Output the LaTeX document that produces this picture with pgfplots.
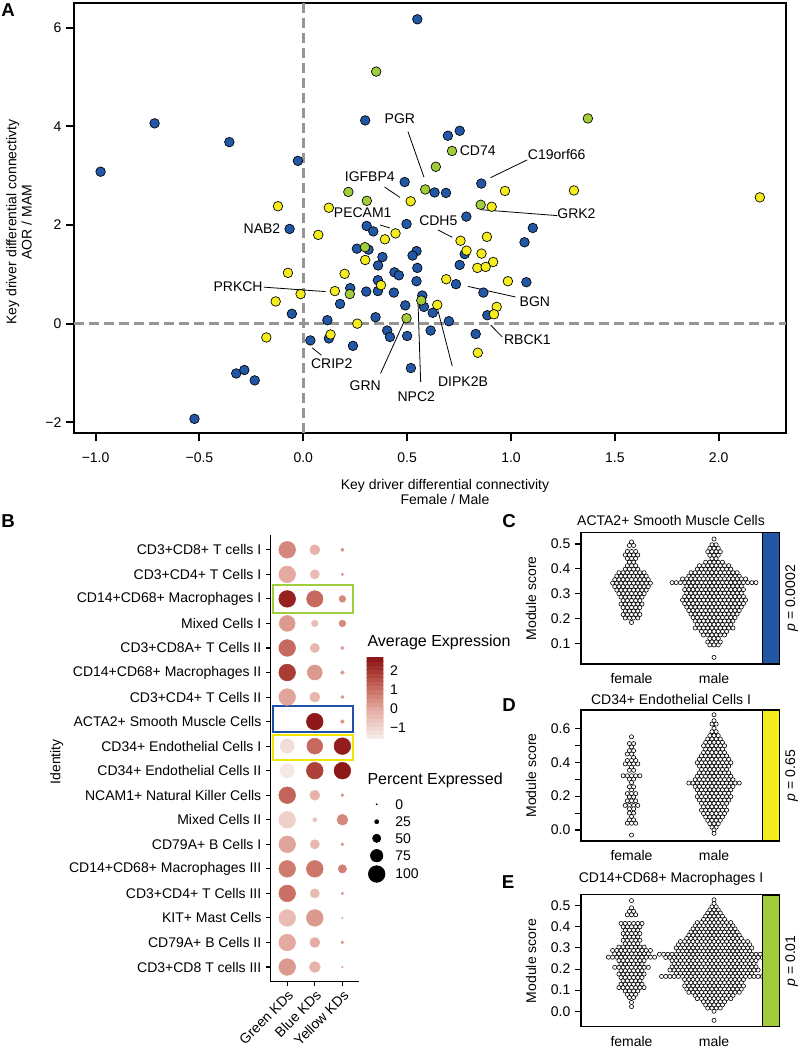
\documentclass[border=0pt]{standalone}
\usepackage{fontspec}
\setmainfont{Liberation Sans}
\usepackage{pgfplots}
\pgfplotsset{compat=1.18}
\usepackage{pgfplotstable}

\definecolor{kdblue}{RGB}{33,87,165}
\definecolor{kdyellow}{RGB}{245,236,30}
\definecolor{kdgreen}{RGB}{163,204,58}
\definecolor{dashgray}{RGB}{150,150,150}
\definecolor{boxgreen}{RGB}{160,205,60}
\definecolor{boxblue}{RGB}{30,80,165}
\definecolor{boxyellow}{RGB}{240,230,0}

\newcommand{\fs}{\fontsize{10.5}{11.5}\selectfont}
\newcommand{\lt}{\fontsize{12}{14}\selectfont}
\newcommand{\pl}{\fontsize{14}{16}\selectfont\bfseries}

\pgfplotsset{
  colormap={reds}{rgb255(0cm)=(247,237,235); rgb255(1.58cm)=(228,170,160); rgb255(2.58cm)=(202,112,100); rgb255(3.58cm)=(165,55,48); rgb255(4.29cm)=(138,18,20)},
  kdpt/.style={only marks, mark=*, mark size=3.6pt, mark options={fill=#1, draw=black, line width=0.5pt}},
  swarm/.style={only marks, mark=*, mark size=1.55pt, mark options={fill=white, draw=black, line width=0.45pt}},
  swarmaxis/.style={scale only axis, width=136.3pt, xmin=0.388, xmax=2.59,
    xtick={1,2}, xticklabels={female,male}, xtick style={draw=none},
    tick align=outside, ytick pos=left, xtick pos=bottom, major tick length=4.5pt,
    ytick style={black, line width=0.8pt},
    tick label style={font=\fs}, xticklabel style={yshift=0.8pt},
    axis line style={line width=0.8pt}, clip marker paths=true},
}

% dot plot: x = KD group, y = row (18 = top), pct = percent expressed, avg = average expression
\pgfplotstableread{
x y pct avg
1 18 100 0.6
2 18 60 -0.2
3 18 20 0.5
1 17 100 0.0
2 17 55 -0.4
3 17 15 0.3
1 16 100 2.4
2 16 98 1.1
3 16 40 0.6
1 15 95 0.3
2 15 40 -0.5
3 15 40 0.6
1 14 100 1.1
2 14 55 -0.3
3 14 20 0.3
1 13 100 1.9
2 13 90 0.3
3 13 22 0.3
1 12 100 0.1
2 12 60 -0.3
3 12 20 0.3
2 11 100 2.6
3 11 22 0.4
1 10 85 -1.2
2 10 95 1.1
3 10 100 2.5
1 9 85 -1.45
2 9 100 1.8
3 9 100 2.6
1 8 100 1.2
2 8 60 -0.2
3 8 18 0.3
1 7 100 -0.9
2 7 24 -0.6
3 7 65 0.6
1 6 100 0.1
2 6 55 -0.3
3 6 18 0.2
1 5 100 0.8
2 5 100 0.9
3 5 50 0.7
1 4 100 1.0
2 4 55 -0.4
3 4 15 0.3
1 3 100 -0.4
2 3 100 0.3
3 3 8 0.2
1 2 100 0.0
2 2 60 -0.1
3 2 18 0.2
1 1 100 0.3
2 1 65 -0.2
3 1 10 0.1
}\dotdata

\pgfplotstableread{
x y pct
376.7 -804.3 0
376.7 -821.7 25
376.7 -838.3 50
376.7 -855.7 75
376.7 -874 100
}\pctlegend

\begin{document}
\begin{tikzpicture}
\useasboundingbox (0,0) rectangle (600pt,-787.5pt);

% ---------------- A ----------------
\begin{axis}[
  at={(55.5pt,-324.75pt)}, anchor=south west,
  scale only axis, width=534pt, height=322.5pt,
  xmin=-1.104, xmax=2.324, ymin=-2.217, ymax=6.5,
  xtick={-1,-0.5,0,0.5,1,1.5,2}, xticklabels={−1.0,−0.5,0.0,0.5,1.0,1.5,2.0},
  ytick={-2,0,2,4,6}, yticklabels={−2,0,2,4,6},
  tick align=outside, tick pos=left, major tick length=6pt,
  tick style={black, line width=1.5pt},
  axis line style={line width=1.5pt},
  tick label style={font=\fs},
  xticklabel style={yshift=-5pt},
]
\addplot[dashgray, line width=2.5pt, dash pattern=on 7.5pt off 3.75pt] coordinates {(0,-2.217) (0,6.5)};
\addplot[dashgray, line width=2.5pt, dash pattern=on 7.5pt off 3.75pt] coordinates {(-1.104,0) (2.324,0)};

\draw[line width=0.6pt] (axis cs:0.504,3.89) -- (axis cs:0.581,2.97);
\draw[line width=0.6pt] (axis cs:1.078,3.32) -- (axis cs:0.902,2.96);
\draw[line width=0.6pt] (axis cs:0.391,2.77) -- (axis cs:0.465,2.56);
\draw[line width=0.6pt] (axis cs:0.369,2.00) -- (axis cs:0.417,1.94);
\draw[line width=0.6pt] (axis cs:0.648,1.90) -- (axis cs:0.717,1.75);
\draw[line width=0.6pt] (axis cs:1.223,2.19) -- (axis cs:0.854,2.31);
\draw[line width=0.6pt] (axis cs:-0.190,0.74) -- (axis cs:0.107,0.65);
\draw[line width=0.6pt] (axis cs:0.793,0.755) -- (axis cs:1.022,0.54);
\draw[line width=0.6pt] (axis cs:0.902,-0.03) -- (axis cs:0.958,-0.27);
\draw[line width=0.6pt] (axis cs:0.043,-0.49) -- (axis cs:0.087,-0.64);
\draw[line width=0.6pt] (axis cs:0.372,-1.01) -- (axis cs:0.484,0.03);
\draw[line width=0.6pt] (axis cs:0.565,-1.18) -- (axis cs:0.552,0.47);
\draw[line width=0.6pt] (axis cs:0.717,-0.86) -- (axis cs:0.648,0.27);

% blue key drivers
\addplot[kdpt=kdblue] coordinates {
(-0.976,3.08) (-0.716,4.06) (-0.356,3.68) (-0.026,3.30) (0.298,4.12) (-0.066,1.92)
(0.305,1.98) (0.337,1.87) (0.258,1.52) (0.314,1.50) (0.381,1.35) (0.549,6.17)
(0.696,3.81) (0.753,3.91) (0.488,2.87) (0.632,2.66) (0.687,2.65) (0.857,2.84)
(0.785,2.17) (1.105,1.94) (1.065,1.65) (0.497,2.02) (0.777,1.41) (0.545,1.47)
(0.526,1.38) (0.360,1.18) (0.439,1.04) (0.460,0.98) (0.359,0.88) (0.359,0.66)
(0.303,0.65) (0.226,0.72) (0.436,0.63) (0.177,0.40) (-0.055,0.20) (0.116,0.07)
(0.348,0.13) (0.404,-0.14) (0.417,-0.27) (0.034,-0.34) (0.123,-0.30) (0.239,-0.45)
(-0.323,-1.01) (-0.284,-0.94) (-0.234,-1.15) (-0.524,-1.93) (0.753,1.19) (0.549,1.13)
(0.545,0.86) (0.735,0.80) (1.074,0.84) (0.867,0.63) (0.573,0.57) (0.581,0.34)
(0.491,0.37) (0.623,0.22) (0.886,0.17) (0.701,0.05) (0.500,-0.25) (0.613,-0.14)
(0.830,-0.21) (0.518,-0.90)
};
% yellow key drivers
\addplot[kdpt=kdyellow] coordinates {
(-0.122,2.38) (0.123,2.35) (0.072,1.80) (0.393,1.71) (0.444,1.83) (0.971,2.69)
(1.303,2.70) (2.198,2.56) (0.517,2.48) (0.907,2.37) (0.757,1.68) (0.884,1.76)
(0.786,1.48) (0.858,1.42) (0.914,1.25) (0.298,1.29) (-0.074,1.03) (0.199,1.01)
(0.374,0.78) (0.152,0.66) (-0.013,0.60) (-0.133,0.45) (0.260,0.00) (-0.178,-0.28)
(0.131,-0.22) (0.838,1.13) (0.878,1.15) (0.688,0.90) (0.985,0.86) (0.645,0.38)
(0.931,0.34) (0.918,0.19) (0.840,-0.59)
};
% green key drivers
\addplot[kdpt=kdgreen] coordinates {
(0.351,5.11) (0.217,2.67) (0.306,2.49) (0.297,1.55) (1.370,4.16) (0.716,3.50)
(0.638,3.18) (0.587,2.72) (0.854,2.41) (0.224,0.60) (0.568,0.47) (0.497,0.11)
};

\node[font=\fs] at (axis cs:0.465,4.16) {PGR};
\node[font=\fs] at (axis cs:0.840,3.51) {CD74};
\node[font=\fs] at (axis cs:1.220,3.42) {C19orf66};
\node[font=\fs] at (axis cs:0.320,2.97) {IGFBP4};
\node[font=\fs] at (axis cs:0.286,2.24) {PECAM1};
\node[font=\fs] at (axis cs:-0.199,1.92) {NAB2};
\node[font=\fs] at (axis cs:0.650,2.09) {CDH5};
\node[font=\fs] at (axis cs:1.315,2.22) {GRK2};
\node[font=\fs] at (axis cs:-0.314,0.74) {PRKCH};
\node[font=\fs] at (axis cs:1.115,0.44) {BGN};
\node[font=\fs] at (axis cs:1.079,-0.32) {RBCK1};
\node[font=\fs] at (axis cs:0.137,-0.82) {CRIP2};
\node[font=\fs] at (axis cs:0.298,-1.26) {GRN};
\node[font=\fs] at (axis cs:0.544,-1.49) {NPC2};
\node[font=\fs] at (axis cs:0.769,-1.17) {DIPK2B};
\end{axis}

% ---------------- B ----------------
\begin{axis}[
  at={(203.0pt,-736.3pt)}, anchor=south west,
  scale only axis, width=66.2pt, height=335pt,
  xmin=0.4, xmax=3.6, ymin=0.4, ymax=18.6,
  axis lines=left, x axis line style={-}, y axis line style={-},
  axis line style={line width=0.8pt},
  xtick={1,2,3}, xticklabels={Green KDs,Blue KDs,Yellow KDs},
  xticklabel style={rotate=45, anchor=north east, inner sep=1.5pt},
  ytick={1,...,18},
  yticklabels={CD3+CD8 T cells III, CD79A+ B Cells II, KIT+ Mast Cells, CD3+CD4+ T Cells III,
    CD14+CD68+ Macrophages III, CD79A+ B Cells I, Mixed Cells II, NCAM1+ Natural Killer Cells,
    CD34+ Endothelial Cells II, CD34+ Endothelial Cells I, ACTA2+ Smooth Muscle Cells,
    CD3+CD4+ T Cells II, CD14+CD68+ Macrophages II, CD3+CD8A+ T Cells II, Mixed Cells I,
    CD14+CD68+ Macrophages I, CD3+CD4+ T Cells I, CD3+CD8+ T cells I},
  tick label style={font=\fs},
  tick align=outside, major tick length=3.5pt, tick style={black, line width=0.8pt},
  colormap name=reds, point meta min=-1.58, point meta max=2.71,
  clip=false,
]
\addplot[scatter, only marks, mark=*, point meta=explicit,
  scatter/use mapped color={draw=mapped color, fill=mapped color},
  visualization depends on={0.0626*\thisrow{pct} \as \rad},
  scatter/@pre marker code/.append style={/tikz/mark size=\rad}]
  table[x=x, y=y, meta=avg] {\dotdata};
\draw[boxgreen, line width=1.4pt] (axis cs:0.494,15.42) rectangle (axis cs:3.398,16.55);
\draw[boxblue, line width=1.4pt] (axis cs:0.494,10.59) rectangle (axis cs:3.398,11.62);
\draw[boxyellow, line width=1.4pt] (axis cs:0.494,9.42) rectangle (axis cs:3.398,10.45);
\end{axis}

% average expression colour bar (20 bins, as ggplot draws it)
\begin{axis}[
  at={(275.03pt,-553.73pt)}, anchor=south west,
  scale only axis, width=12.45pt, height=60.75pt,
  xmin=-0.5, xmax=1.5, ymin=-1.58, ymax=2.71,
  hide x axis, axis y line*=right, y axis line style={draw=none},
  ytick={-1,0,1,2}, yticklabels={−1,0,1,2}, ytick style={draw=none},
  yticklabel style={font=\fs, xshift=1.5pt},
  colormap name=reds, point meta min=-1.58, point meta max=2.71,
]
\addplot[matrix plot*, mesh/cols=2, point meta=y] coordinates {
(0,-1.4728)(1,-1.4728) (0,-1.2583)(1,-1.2583) (0,-1.0438)(1,-1.0438) (0,-0.8293)(1,-0.8293)
(0,-0.6148)(1,-0.6148) (0,-0.4003)(1,-0.4003) (0,-0.1858)(1,-0.1858) (0,0.0288)(1,0.0288)
(0,0.2433)(1,0.2433) (0,0.4578)(1,0.4578) (0,0.6723)(1,0.6723) (0,0.8868)(1,0.8868)
(0,1.1013)(1,1.1013) (0,1.3158)(1,1.3158) (0,1.5303)(1,1.5303) (0,1.7448)(1,1.7448)
(0,1.9593)(1,1.9593) (0,2.1738)(1,2.1738) (0,2.3883)(1,2.3883) (0,2.6028)(1,2.6028)
};
\end{axis}

% percent expressed legend
\begin{axis}[
  at={(275.03pt,-667.5pt)}, anchor=south west,
  scale only axis, width=15pt, height=75pt,
  xmin=366.7, xmax=386.7, ymin=-890, ymax=-790, hide axis, clip=false,
]
\addplot[only marks, mark=*, black,
  visualization depends on={max(0.0626*\thisrow{pct},0.45) \as \rad},
  scatter, scatter/use mapped color={draw=black, fill=black},
  scatter/@pre marker code/.append style={/tikz/mark size=\rad}]
  table[x=x, y=y, meta=pct] {\pctlegend};
\end{axis}

% ---------------- C ----------------
\begin{axis}[swarmaxis, at={(435.75pt,-498pt)}, anchor=south west, height=98.5pt,
  ymin=0.0185, ymax=0.5454, ytick={0.1,0.2,0.3,0.4,0.5}, yticklabels={0.1,0.2,0.3,0.4,0.5}]
\addplot[swarm, x filter/.expression={1+0.0509*x}] coordinates {
(0,.508)
(-.5,.494)(.5,.494)
(-1,.47)(0,.47)(1,.47)
(-1.5,.456)(-.5,.456)(.5,.456)(1.5,.456)
(-1,.442)(0,.442)(1,.442)
(-.5,.427)(.5,.427)
(-1,.413)(0,.413)(1,.413)
(-1.5,.399)(-.5,.399)(.5,.399)(1.5,.399)
(-3,.385)(-2,.385)(-1,.385)(0,.385)(1,.385)(2,.385)(3,.385)
(-3.5,.371)(-2.5,.371)(-1.5,.371)(-.5,.371)(.5,.371)(1.5,.371)(2.5,.371)(3.5,.371)
(-4,.357)(-3,.357)(-2,.357)(-1,.357)(0,.357)(1,.357)(2,.357)(3,.357)(4,.357)
(-4.5,.343)(-3.5,.343)(-2.5,.343)(-1.5,.343)(-.5,.343)(.5,.343)(1.5,.343)(2.5,.343)(3.5,.343)(4.5,.343)
(-4,.329)(-3,.329)(-2,.329)(-1,.329)(0,.329)(1,.329)(2,.329)(3,.329)(4,.329)
(-3.5,.315)(-2.5,.315)(-1.5,.315)(-.5,.315)(.5,.315)(1.5,.315)(2.5,.315)(3.5,.315)
(-3,.301)(-2,.301)(-1,.301)(0,.301)(1,.301)(2,.301)(3,.301)
(-2.5,.287)(-1.5,.287)(-.5,.287)(.5,.287)(1.5,.287)(2.5,.287)
(-2,.273)(-1,.273)(0,.273)(1,.273)(2,.273)
(-2.5,.259)(-1.5,.259)(-.5,.259)(.5,.259)(1.5,.259)(2.5,.259)
(-2,.245)(-1,.245)(0,.245)(1,.245)(2,.245)
(-1.5,.231)(-.5,.231)(.5,.231)(1.5,.231)
(-2,.217)(-1,.217)(0,.217)(1,.217)(2,.217)
(-1.5,.203)(-.5,.203)(.5,.203)(1.5,.203)
(0,.185)
};
\addplot[swarm, x filter/.expression={2+0.0509*x}] coordinates {
(0,.52)
(-.5,.497)(.5,.497)
(-1,.483)(0,.483)(1,.483)
(-1.5,.469)(-.5,.469)(.5,.469)(1.5,.469)
(-1,.455)(0,.455)(1,.455)
(-.5,.441)(.5,.441)
(-2,.427)(-1,.427)(0,.427)(1,.427)(2,.427)
(-3.5,.413)(-2.5,.413)(-1.5,.413)(-.5,.413)(.5,.413)(1.5,.413)(2.5,.413)(3.5,.413)
(-4,.399)(-3,.399)(-2,.399)(-1,.399)(0,.399)(1,.399)(2,.399)(3,.399)(4,.399)
(-5.5,.385)(-4.5,.385)(-3.5,.385)(-2.5,.385)(-1.5,.385)(-.5,.385)(.5,.385)(1.5,.385)(2.5,.385)(3.5,.385)(4.5,.385)(5.5,.385)
(-6,.371)(-5,.371)(-4,.371)(-3,.371)(-2,.371)(-1,.371)(0,.371)(1,.371)(2,.371)(3,.371)(4,.371)(5,.371)(6,.371)
(-7.5,.36)(-6.5,.36)(-5.5,.36)(-4.5,.36)(-3.5,.36)(-2.5,.36)(-1.5,.36)(-.5,.36)(.5,.36)(1.5,.36)(2.5,.36)(3.5,.36)(4.5,.36)(5.5,.36)(6.5,.36)(7.5,.36)
(-10,.345)(-9,.345)(-8,.345)(-7,.345)(-6,.345)(-5,.345)(-4,.345)(-3,.345)(-2,.345)(-1,.345)(0,.345)(1,.345)(2,.345)(3,.345)(4,.345)(5,.345)(6,.345)(7,.345)(8,.345)(9,.345)(10,.345)
(-6.5,.331)(-5.5,.331)(-4.5,.331)(-3.5,.331)(-2.5,.331)(-1.5,.331)(-.5,.331)(.5,.331)(1.5,.331)(2.5,.331)(3.5,.331)(4.5,.331)(5.5,.331)(6.5,.331)
(-7,.317)(-6,.317)(-5,.317)(-4,.317)(-3,.317)(-2,.317)(-1,.317)(0,.317)(1,.317)(2,.317)(3,.317)(4,.317)(5,.317)(6,.317)(7,.317)
(-6.5,.303)(-5.5,.303)(-4.5,.303)(-3.5,.303)(-2.5,.303)(-1.5,.303)(-.5,.303)(.5,.303)(1.5,.303)(2.5,.303)(3.5,.303)(4.5,.303)(5.5,.303)(6.5,.303)
(-7,.289)(-6,.289)(-5,.289)(-4,.289)(-3,.289)(-2,.289)(-1,.289)(0,.289)(1,.289)(2,.289)(3,.289)(4,.289)(5,.289)(6,.289)(7,.289)
(-7.5,.275)(-6.5,.275)(-5.5,.275)(-4.5,.275)(-3.5,.275)(-2.5,.275)(-1.5,.275)(-.5,.275)(.5,.275)(1.5,.275)(2.5,.275)(3.5,.275)(4.5,.275)(5.5,.275)(6.5,.275)(7.5,.275)
(-7,.261)(-6,.261)(-5,.261)(-4,.261)(-3,.261)(-2,.261)(-1,.261)(0,.261)(1,.261)(2,.261)(3,.261)(4,.261)(5,.261)(6,.261)(7,.261)
(-6.5,.247)(-5.5,.247)(-4.5,.247)(-3.5,.247)(-2.5,.247)(-1.5,.247)(-.5,.247)(.5,.247)(1.5,.247)(2.5,.247)(3.5,.247)(4.5,.247)(5.5,.247)(6.5,.247)
(-6,.233)(-5,.233)(-4,.233)(-3,.233)(-2,.233)(-1,.233)(0,.233)(1,.233)(2,.233)(3,.233)(4,.233)(5,.233)(6,.233)
(-5.5,.219)(-4.5,.219)(-3.5,.219)(-2.5,.219)(-1.5,.219)(-.5,.219)(.5,.219)(1.5,.219)(2.5,.219)(3.5,.219)(4.5,.219)(5.5,.219)
(-5,.205)(-4,.205)(-3,.205)(-2,.205)(-1,.205)(0,.205)(1,.205)(2,.205)(3,.205)(4,.205)(5,.205)
(-4.5,.191)(-3.5,.191)(-2.5,.191)(-1.5,.191)(-.5,.191)(.5,.191)(1.5,.191)(2.5,.191)(3.5,.191)(4.5,.191)
(-4,.177)(-3,.177)(-2,.177)(-1,.177)(0,.177)(1,.177)(2,.177)(3,.177)(4,.177)
(-4.5,.163)(-3.5,.163)(-2.5,.163)(-1.5,.163)(-.5,.163)(.5,.163)(1.5,.163)(2.5,.163)(3.5,.163)(4.5,.163)
(-3,.149)(-2,.149)(-1,.149)(0,.149)(1,.149)(2,.149)(3,.149)
(-2.5,.135)(-1.5,.135)(-.5,.135)(.5,.135)(1.5,.135)(2.5,.135)
(-1,.121)(0,.121)(1,.121)
(-1.5,.107)(-.5,.107)(.5,.107)(1.5,.107)
(-1,.095)(0,.095)(1,.095)
(0,.045)
};
\end{axis}

% ---------------- D ----------------
\begin{axis}[swarmaxis, at={(435.75pt,-630.75pt)}, anchor=south west, height=98.25pt,
  ymin=-0.065, ymax=0.708, ytick={0,0.1,0.2,0.3,0.4,0.5,0.6}, yticklabels={0.0,,0.2,,0.4,,0.6}]
\addplot[swarm, x filter/.expression={1+0.0509*x}] coordinates {
(0,.55)
(-.5,.51)(.5,.51)
(0,.49)
(-.5,.468)(.5,.468)
(-1,.448)(0,.448)
(.5,.428)
(-1,.41)(0,.41)(1,.41)
(-1.5,.39)(-.5,.39)(.5,.39)(1.5,.39)
(0,.37)
(-.5,.352)(.5,.352)
(-2,.32)(-1,.32)(0,.32)(1,.32)(2,.32)
(-.5,.30)(.5,.30)
(0,.28)
(-.5,.255)(.5,.255)
(0,.235)
(-1,.215)(0,.215)(1,.215)
(-.5,.195)(.5,.195)
(-1,.172)(0,.172)(1,.172)
(-1.5,.145)(-.5,.145)(.5,.145)(1.5,.145)
(-.5,.125)(.5,.125)
(-.5,.10)(.5,.10)
(0,.08)
(-.5,.06)(.5,.06)
(-1,.04)(0,.04)(1,.04)
(0,-.03)
};
\addplot[swarm, x filter/.expression={2+0.0509*x}] coordinates {
(0,.68)
(0,.645)
(-.5,.625)(.5,.625)
(0,.60)
(-.5,.58)(.5,.58)
(-1,.557)(0,.557)(1,.557)
(-1.5,.537)(-.5,.537)(.5,.537)(1.5,.537)
(-2,.517)(-1,.517)(0,.517)(1,.517)(2,.517)
(-2.5,.497)(-1.5,.497)(-.5,.497)(.5,.497)(1.5,.497)(2.5,.497)
(-2,.477)(-1,.477)(0,.477)(1,.477)(2,.477)
(-2.5,.457)(-1.5,.457)(-.5,.457)(.5,.457)(1.5,.457)(2.5,.457)
(-3,.437)(-2,.437)(-1,.437)(0,.437)(1,.437)(2,.437)(3,.437)
(-3.5,.417)(-2.5,.417)(-1.5,.417)(-.5,.417)(.5,.417)(1.5,.417)(2.5,.417)(3.5,.417)
(-4,.397)(-3,.397)(-2,.397)(-1,.397)(0,.397)(1,.397)(2,.397)(3,.397)(4,.397)
(-3.5,.377)(-2.5,.377)(-1.5,.377)(-.5,.377)(.5,.377)(1.5,.377)(2.5,.377)(3.5,.377)
(-3,.357)(-2,.357)(-1,.357)(0,.357)(1,.357)(2,.357)(3,.357)
(-3.5,.337)(-2.5,.337)(-1.5,.337)(-.5,.337)(.5,.337)(1.5,.337)(2.5,.337)(3.5,.337)
(-4,.317)(-3,.317)(-2,.317)(-1,.317)(0,.317)(1,.317)(2,.317)(3,.317)(4,.317)
(-4.5,.297)(-3.5,.297)(-2.5,.297)(-1.5,.297)(-.5,.297)(.5,.297)(1.5,.297)(2.5,.297)(3.5,.297)(4.5,.297)
(-6,.277)(-5,.277)(-4,.277)(-3,.277)(-2,.277)(-1,.277)(0,.277)(1,.277)(2,.277)(3,.277)(4,.277)(5,.277)(6,.277)
(-4.5,.257)(-3.5,.257)(-2.5,.257)(-1.5,.257)(-.5,.257)(.5,.257)(1.5,.257)(2.5,.257)(3.5,.257)(4.5,.257)
(-4,.237)(-3,.237)(-2,.237)(-1,.237)(0,.237)(1,.237)(2,.237)(3,.237)(4,.237)
(-3.5,.217)(-2.5,.217)(-1.5,.217)(-.5,.217)(.5,.217)(1.5,.217)(2.5,.217)(3.5,.217)
(-4,.197)(-3,.197)(-2,.197)(-1,.197)(0,.197)(1,.197)(2,.197)(3,.197)(4,.197)
(-3.5,.177)(-2.5,.177)(-1.5,.177)(-.5,.177)(.5,.177)(1.5,.177)(2.5,.177)(3.5,.177)
(-3,.157)(-2,.157)(-1,.157)(0,.157)(1,.157)(2,.157)(3,.157)
(-2.5,.137)(-1.5,.137)(-.5,.137)(.5,.137)(1.5,.137)(2.5,.137)
(-3,.117)(-2,.117)(-1,.117)(0,.117)(1,.117)(2,.117)(3,.117)
(-2.5,.097)(-1.5,.097)(-.5,.097)(.5,.097)(1.5,.097)(2.5,.097)
(-2,.077)(-1,.077)(0,.077)(1,.077)(2,.077)
(-1.5,.057)(-.5,.057)(.5,.057)(1.5,.057)
(-1,.037)(0,.037)(1,.037)
(-.5,.017)(.5,.017)
(0,0)
(0,-.02)
};
\end{axis}

% ---------------- E ----------------
\begin{axis}[swarmaxis, at={(435.75pt,-770.0pt)}, anchor=south west, height=98.8pt,
  ymin=-0.073, ymax=0.551, ytick={0,0.1,0.2,0.3,0.4,0.5}, yticklabels={0.0,0.1,0.2,0.3,0.4,0.5}]
\addplot[swarm, x filter/.expression={1+0.0509*x}] coordinates {
(0,.524)
(0,.49)
(-.5,.473)(.5,.473)
(-1,.457)(0,.457)(1,.457)
(-2.5,.416)(-1.5,.416)(-.5,.416)(.5,.416)(1.5,.416)(2.5,.416)
(-2,.40)(-1,.40)(0,.40)(1,.40)(2,.40)
(-1.5,.384)(-.5,.384)(.5,.384)(1.5,.384)
(-2,.368)(-1,.368)(0,.368)(1,.368)(2,.368)
(-1.5,.352)(-.5,.352)(.5,.352)(1.5,.352)
(-2,.336)(-1,.336)(0,.336)(1,.336)(2,.336)
(-1.5,.32)(-.5,.32)(.5,.32)(1.5,.32)
(-3,.304)(-2,.304)(-1,.304)(0,.304)(1,.304)(2,.304)(3,.304)
(-4.5,.288)(-3.5,.288)(-2.5,.288)(-1.5,.288)(-.5,.288)(.5,.288)(1.5,.288)(2.5,.288)(3.5,.288)(4.5,.288)
(-4,.272)(-3,.272)(-2,.272)(-1,.272)(0,.272)(1,.272)(2,.272)(3,.272)(4,.272)
(-5.5,.256)(-4.5,.256)(-3.5,.256)(-2.5,.256)(-1.5,.256)(-.5,.256)(.5,.256)(1.5,.256)(2.5,.256)(3.5,.256)(4.5,.256)(5.5,.256)
(-3,.24)(-2,.24)(-1,.24)(0,.24)(1,.24)(2,.24)(3,.24)
(-2.5,.224)(-1.5,.224)(-.5,.224)(.5,.224)(1.5,.224)(2.5,.224)
(-4,.208)(-3,.208)(-2,.208)(-1,.208)(0,.208)(1,.208)(2,.208)(3,.208)(4,.208)
(-2.5,.192)(-1.5,.192)(-.5,.192)(.5,.192)(1.5,.192)(2.5,.192)
(-3,.176)(-2,.176)(-1,.176)(0,.176)(1,.176)(2,.176)(3,.176)
(-2.5,.16)(-1.5,.16)(-.5,.16)(.5,.16)(1.5,.16)(2.5,.16)
(-2,.144)(-1,.144)(0,.144)(1,.144)(2,.144)
(-2.5,.128)(-1.5,.128)(-.5,.128)(.5,.128)(1.5,.128)(2.5,.128)
(-3,.112)(-2,.112)(-1,.112)(0,.112)(1,.112)(2,.112)(3,.112)
(-1.5,.096)(-.5,.096)(.5,.096)(1.5,.096)
(-1,.08)(0,.08)(1,.08)
(-.5,.065)(.5,.065)
(0,.042)
(0,.022)
};
\addplot[swarm, x filter/.expression={2+0.0509*x}] coordinates {
(0,.528)
(0,.51)
(-.5,.495)(.5,.495)
(-1,.48)(0,.48)(1,.48)
(-1.5,.465)(-.5,.465)(.5,.465)(1.5,.465)
(-2,.45)(-1,.45)(0,.45)(1,.45)(2,.45)
(-2.5,.435)(-1.5,.435)(-.5,.435)(.5,.435)(1.5,.435)(2.5,.435)
(-4,.42)(-3,.42)(-2,.42)(-1,.42)(0,.42)(1,.42)(2,.42)(3,.42)(4,.42)
(-4.5,.405)(-3.5,.405)(-2.5,.405)(-1.5,.405)(-.5,.405)(.5,.405)(1.5,.405)(2.5,.405)(3.5,.405)(4.5,.405)
(-5,.39)(-4,.39)(-3,.39)(-2,.39)(-1,.39)(0,.39)(1,.39)(2,.39)(3,.39)(4,.39)(5,.39)
(-5.5,.375)(-4.5,.375)(-3.5,.375)(-2.5,.375)(-1.5,.375)(-.5,.375)(.5,.375)(1.5,.375)(2.5,.375)(3.5,.375)(4.5,.375)(5.5,.375)
(-6,.36)(-5,.36)(-4,.36)(-3,.36)(-2,.36)(-1,.36)(0,.36)(1,.36)(2,.36)(3,.36)(4,.36)(5,.36)(6,.36)
(-6.5,.345)(-5.5,.345)(-4.5,.345)(-3.5,.345)(-2.5,.345)(-1.5,.345)(-.5,.345)(.5,.345)(1.5,.345)(2.5,.345)(3.5,.345)(4.5,.345)(5.5,.345)(6.5,.345)
(-8,.33)(-7,.33)(-6,.33)(-5,.33)(-4,.33)(-3,.33)(-2,.33)(-1,.33)(0,.33)(1,.33)(2,.33)(3,.33)(4,.33)(5,.33)(6,.33)(7,.33)(8,.33)
(-8.5,.315)(-7.5,.315)(-6.5,.315)(-5.5,.315)(-4.5,.315)(-3.5,.315)(-2.5,.315)(-1.5,.315)(-.5,.315)(.5,.315)(1.5,.315)(2.5,.315)(3.5,.315)(4.5,.315)(5.5,.315)(6.5,.315)(7.5,.315)(8.5,.315)
(-9,.30)(-8,.30)(-7,.30)(-6,.30)(-5,.30)(-4,.30)(-3,.30)(-2,.30)(-1,.30)(0,.30)(1,.30)(2,.30)(3,.30)(4,.30)(5,.30)(6,.30)(7,.30)(8,.30)(9,.30)
(-8.5,.285)(-7.5,.285)(-6.5,.285)(-5.5,.285)(-4.5,.285)(-3.5,.285)(-2.5,.285)(-1.5,.285)(-.5,.285)(.5,.285)(1.5,.285)(2.5,.285)(3.5,.285)(4.5,.285)(5.5,.285)(6.5,.285)(7.5,.285)(8.5,.285)
(-13,.27)(-12,.27)(-11,.27)(-10,.27)(-9,.27)(-8,.27)(-7,.27)(-6,.27)(-5,.27)(-4,.27)(-3,.27)(-2,.27)(-1,.27)(0,.27)(1,.27)(2,.27)(3,.27)(4,.27)(5,.27)(6,.27)(7,.27)(8,.27)(9,.27)(10,.27)(11,.27)(12,.27)(13,.27)
(-11.5,.255)(-10.5,.255)(-9.5,.255)(-8.5,.255)(-7.5,.255)(-6.5,.255)(-5.5,.255)(-4.5,.255)(-3.5,.255)(-2.5,.255)(-1.5,.255)(-.5,.255)(.5,.255)(1.5,.255)(2.5,.255)(3.5,.255)(4.5,.255)(5.5,.255)(6.5,.255)(7.5,.255)(8.5,.255)(9.5,.255)(10.5,.255)(11.5,.255)
(-10,.24)(-9,.24)(-8,.24)(-7,.24)(-6,.24)(-5,.24)(-4,.24)(-3,.24)(-2,.24)(-1,.24)(0,.24)(1,.24)(2,.24)(3,.24)(4,.24)(5,.24)(6,.24)(7,.24)(8,.24)(9,.24)(10,.24)
(-9.5,.225)(-8.5,.225)(-7.5,.225)(-6.5,.225)(-5.5,.225)(-4.5,.225)(-3.5,.225)(-2.5,.225)(-1.5,.225)(-.5,.225)(.5,.225)(1.5,.225)(2.5,.225)(3.5,.225)(4.5,.225)(5.5,.225)(6.5,.225)(7.5,.225)(8.5,.225)(9.5,.225)
(-10,.21)(-9,.21)(-8,.21)(-7,.21)(-6,.21)(-5,.21)(-4,.21)(-3,.21)(-2,.21)(-1,.21)(0,.21)(1,.21)(2,.21)(3,.21)(4,.21)(5,.21)(6,.21)(7,.21)(8,.21)(9,.21)(10,.21)
(-10.5,.195)(-9.5,.195)(-8.5,.195)(-7.5,.195)(-6.5,.195)(-5.5,.195)(-4.5,.195)(-3.5,.195)(-2.5,.195)(-1.5,.195)(-.5,.195)(.5,.195)(1.5,.195)(2.5,.195)(3.5,.195)(4.5,.195)(5.5,.195)(6.5,.195)(7.5,.195)(8.5,.195)(9.5,.195)(10.5,.195)
(-9,.18)(-8,.18)(-7,.18)(-6,.18)(-5,.18)(-4,.18)(-3,.18)(-2,.18)(-1,.18)(0,.18)(1,.18)(2,.18)(3,.18)(4,.18)(5,.18)(6,.18)(7,.18)(8,.18)(9,.18)
(-12.5,.165)(-11.5,.165)(-10.5,.165)(-9.5,.165)(-8.5,.165)(-7.5,.165)(-6.5,.165)(-5.5,.165)(-4.5,.165)(-3.5,.165)(-2.5,.165)(-1.5,.165)(-.5,.165)(.5,.165)(1.5,.165)(2.5,.165)(3.5,.165)(4.5,.165)(5.5,.165)(6.5,.165)(7.5,.165)(8.5,.165)(9.5,.165)(10.5,.165)(11.5,.165)(12.5,.165)
(-7,.15)(-6,.15)(-5,.15)(-4,.15)(-3,.15)(-2,.15)(-1,.15)(0,.15)(1,.15)(2,.15)(3,.15)(4,.15)(5,.15)(6,.15)(7,.15)
(-6.5,.135)(-5.5,.135)(-4.5,.135)(-3.5,.135)(-2.5,.135)(-1.5,.135)(-.5,.135)(.5,.135)(1.5,.135)(2.5,.135)(3.5,.135)(4.5,.135)(5.5,.135)(6.5,.135)
(-7,.12)(-6,.12)(-5,.12)(-4,.12)(-3,.12)(-2,.12)(-1,.12)(0,.12)(1,.12)(2,.12)(3,.12)(4,.12)(5,.12)(6,.12)(7,.12)
(-6.5,.105)(-5.5,.105)(-4.5,.105)(-3.5,.105)(-2.5,.105)(-1.5,.105)(-.5,.105)(.5,.105)(1.5,.105)(2.5,.105)(3.5,.105)(4.5,.105)(5.5,.105)(6.5,.105)
(-6,.09)(-5,.09)(-4,.09)(-3,.09)(-2,.09)(-1,.09)(0,.09)(1,.09)(2,.09)(3,.09)(4,.09)(5,.09)(6,.09)
(-4.5,.075)(-3.5,.075)(-2.5,.075)(-1.5,.075)(-.5,.075)(.5,.075)(1.5,.075)(2.5,.075)(3.5,.075)(4.5,.075)
(-4,.06)(-3,.06)(-2,.06)(-1,.06)(0,.06)(1,.06)(2,.06)(3,.06)(4,.06)
(-2.5,.045)(-1.5,.045)(-.5,.045)(.5,.045)(1.5,.045)(2.5,.045)
(-2,.03)(-1,.03)(0,.03)(1,.03)(2,.03)
(-1.5,.015)(-.5,.015)(.5,.015)(1.5,.015)
(0,0)
(0,-.043)
};
\end{axis}

% ---------------- free text and side bars (pixel frame) ----------------
\begin{scope}[x=0.75pt, y=-0.75pt]
\node[font=\pl] at (8,10) {A};
\node[font=\fs, align=center] at (445,492) {Key driver differential connectivity\\Female / Male};
\node[font=\fs, align=center, rotate=90] at (19,222) {Key driver differential connectivty\\AOR / MAM};

\node[font=\pl] at (8,521) {B};
\node[font=\fs, rotate=90] at (56.7,761.7) {Identity};
\node[font=\lt, anchor=west, inner sep=0pt] at (367.3,642.7) {Average Expression};
\node[font=\lt, anchor=west, inner sep=0pt] at (367.3,780.7) {Percent Expressed};
\node[font=\fs, anchor=west, inner sep=0pt] at (395,804.3) {0};
\node[font=\fs, anchor=west, inner sep=0pt] at (395,821.7) {25};
\node[font=\fs, anchor=west, inner sep=0pt] at (395,838.3) {50};
\node[font=\fs, anchor=west, inner sep=0pt] at (395,855.7) {75};
\node[font=\fs, anchor=west, inner sep=0pt] at (395,874) {100};

\node[font=\pl] at (509,521) {C};
\node[font=\fs] at (671,520) {ACTA2+ Smooth Muscle Cells};
\node[font=\fs, rotate=90] at (531,598.3) {Module score};
\fill[kdblue] (762.7,532.7) rectangle (779.3,664);
\draw[line width=0.8pt] (762.7,532.7) rectangle (779.3,664);
\node[font=\fs, rotate=90] at (791.7,598.3) {{\itshape p} = 0.0002};

\node[font=\pl] at (509,705) {D};
\node[font=\fs] at (671,699.3) {CD34+ Endothelial Cells I};
\node[font=\fs, rotate=90] at (531,775.5) {Module score};
\fill[kdyellow] (762.7,710) rectangle (779.3,841);
\draw[line width=0.8pt] (762.7,710) rectangle (779.3,841);
\node[font=\fs, rotate=90] at (791.7,775.5) {{\itshape p} = 0.65};

\node[font=\pl] at (508,882.5) {E};
\node[font=\fs] at (671,879) {CD14+CD68+ Macrophages I};
\node[font=\fs, rotate=90] at (531,961) {Module score};
\fill[kdgreen] (762.7,895) rectangle (779.3,1026.7);
\draw[line width=0.8pt] (762.7,895) rectangle (779.3,1026.7);
\node[font=\fs, rotate=90] at (791.7,961) {{\itshape p} = 0.01};
\end{scope}
\end{tikzpicture}
\end{document}
